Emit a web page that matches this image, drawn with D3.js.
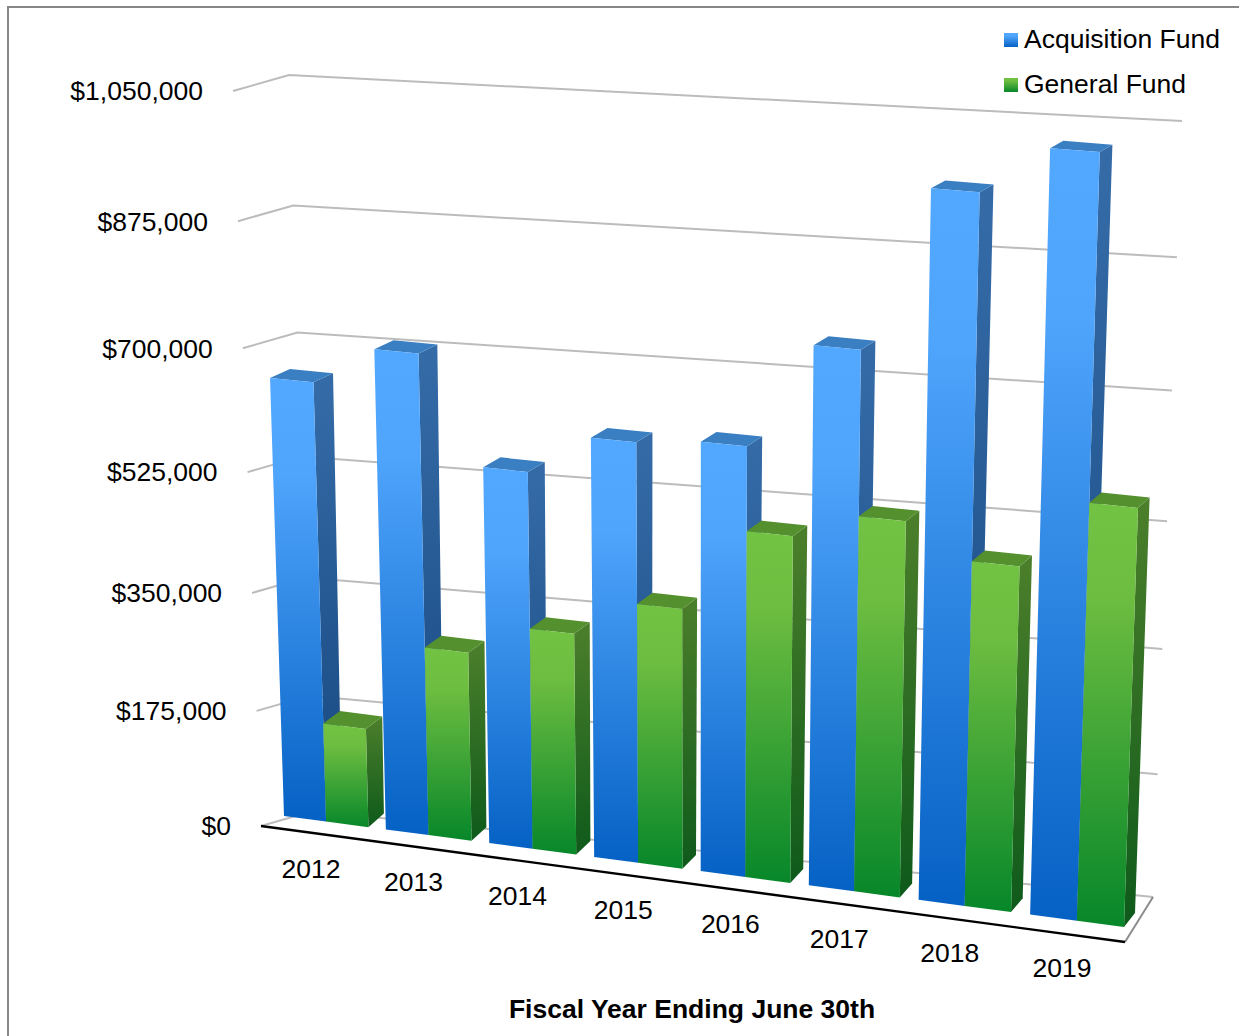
<!DOCTYPE html>
<html>
<head>
<meta charset="utf-8">
<title>Fund balances by fiscal year</title>
<script src="https://cdn.jsdelivr.net/npm/d3@7"></script>
<style>
  html, body { margin: 0; padding: 0; background: #fff; }
  svg { display: block; }
  text { font-family: "Liberation Sans", Arial, sans-serif; fill: #000; }
</style>
</head>
<body>
<svg id="chart" width="1239" height="1036"></svg>
<script>
const years = ["2012", "2013", "2014", "2015", "2016", "2017", "2018", "2019"];
const seriesNames = ["Acquisition Fund", "General Fund"];
const acquisitionFund = [638000, 693000, 543000, 600000, 610000, 756000, 977000, 1041000];
const generalFund = [146000, 276000, 321000, 374000, 493000, 530000, 485000, 581000];
const valueTicks = [0, 175000, 350000, 525000, 700000, 875000, 1050000];
const axisTitle = "Fiscal Year Ending June 30th";

const palette = {
  "Acquisition Fund": {
    front: [["0", "#52a8ff"], ["0.22", "#4fa4fb"], ["1", "#0561c4"]],
    side: [["0", "#356ca8"], ["1", "#17477f"]],
    sideShort: "#3a7fc2"
  },
  "General Fund": {
    front: [["0", "#72c244"], ["0.22", "#6dbd40"], ["1", "#07872a"]],
    side: [["0", "#4c7f2b"], ["1", "#0e5a1b"]],
    sideShort: "#55902f"
  }
};

// Maps the unit square onto a screen quadrilateral (bottom-left, bottom-right,
// top-right, top-left), which gives the perspective of the 3-D chart box.
function quadMap([p0, p1, p2, p3]) {
  const dx1 = p1[0] - p2[0], dx2 = p3[0] - p2[0], sx = p0[0] - p1[0] + p2[0] - p3[0];
  const dy1 = p1[1] - p2[1], dy2 = p3[1] - p2[1], sy = p0[1] - p1[1] + p2[1] - p3[1];
  const den = dx1 * dy2 - dx2 * dy1;
  const g = (sx * dy2 - dx2 * sy) / den, h = (dx1 * sy - sx * dy1) / den;
  const a = p1[0] - p0[0] + g * p1[0], b = p3[0] - p0[0] + h * p3[0], c = p0[0];
  const d = p1[1] - p0[1] + g * p1[1], e = p3[1] - p0[1] + h * p3[1], f = p0[1];
  return (u, v) => {
    const w = g * u + h * v + 1;
    return [(a * u + b * v + c) / w, (d * u + e * v + f) / w];
  };
}

const barPlane = quadMap([[284, 816], [1124, 927], [1150, 149], [260.5, 79]]);
const backWall = quadMap([[313, 811], [1153, 897], [1182, 121], [289, 75]]);
const sideWall = quadMap([[261, 826], [313, 811], [289, 75], [233, 91]]);

const valueScale = d3.scaleLinear().domain([0, 1050000]).range([0, 1]);
const yearScale = d3.scaleBand().domain(years).range([0, 1]).paddingInner(0.17);
const seriesScale = d3.scaleBand().domain(seriesNames).range([0, yearScale.bandwidth()]);

// Depth offset of a bar's back edge varies across the plane.
const depthX = (u, v) => d3.interpolateNumber(
  d3.interpolateNumber(16, 22.5)(v),
  d3.interpolateNumber(11, 12.1)(v))(u);
const depthY = (u, v) => d3.interpolateNumber(
  d3.interpolateNumber(-13.5, -6.2)(v),
  d3.interpolateNumber(-14, -7.4)(v))(u);

const svg = d3.select("#chart");
const defs = svg.append("defs");

function addGradient(id, stops) {
  const grad = defs.append("linearGradient").attr("id", id)
    .attr("x1", 0).attr("y1", 0).attr("x2", 0).attr("y2", 1);
  stops.forEach(([offset, color]) =>
    grad.append("stop").attr("offset", offset).attr("stop-color", color));
}
seriesNames.forEach((name, i) => {
  addGradient(`front${i}`, palette[name].front);
  addGradient(`side${i}`, palette[name].side);
});

// Outer frame
svg.append("path").attr("d", "M8,1036V7H1239")
  .attr("fill", "none").attr("stroke", "#878787").attr("stroke-width", 2);

const line = d3.line();
const wallGroup = svg.append("g").attr("fill", "none").attr("stroke", "#bcbcbc").attr("stroke-width", 2);

// Gridlines on the side wall and back wall
valueTicks.forEach(tick => {
  const v = valueScale(tick);
  wallGroup.append("path").attr("d", line([
    sideWall(0, v), sideWall(1, v), backWall(1, v)
  ]));
});

// Floor outline
wallGroup.append("path").attr("stroke", "#8c8c8c")
  .attr("d", line([backWall(1, 0), sideWall(0, 0).map((c, i) => c + [864, 116][i])]));
svg.append("path").attr("fill", "none").attr("stroke", "#000").attr("stroke-width", 2.4)
  .attr("d", line([sideWall(0, 0), [sideWall(0, 0)[0] + 864, sideWall(0, 0)[1] + 116]]));

// Value labels, right-aligned a fixed distance from the side wall
svg.append("g").selectAll("text").data(valueTicks).join("text")
  .attr("x", d => sideWall(0, valueScale(d))[0] - 30)
  .attr("y", d => sideWall(0, valueScale(d))[1])
  .attr("dy", "0.35em")
  .attr("text-anchor", "end")
  .attr("font-size", 26.5)
  .text(d => "$" + d3.format(",")(d));

// Bars, painted from left to right
const values = { "Acquisition Fund": acquisitionFund, "General Fund": generalFund };
const barsGroup = svg.append("g");

years.forEach((year, yi) => {
  seriesNames.forEach((name, si) => {
    const value = values[name][yi];
    const u0 = yearScale(year) + seriesScale(name);
    const u1 = u0 + seriesScale.bandwidth();
    const v = valueScale(value);
    const bl = barPlane(u0, 0), br = barPlane(u1, 0);
    const tl = barPlane(u0, v), tr = barPlane(u1, v);
    const back = (pt, u, vv) => [pt[0] + depthX(u, vv), pt[1] + depthY(u, vv)];
    const brb = back(br, u1, 0), trb = back(tr, u1, v), tlb = back(tl, u0, v);
    const g = barsGroup.append("g").attr("class", "bar");
    g.append("path").attr("d", line([tr, trb, brb, br]) + "Z").attr("fill", `url(#side${si})`);
    g.append("path").attr("d", line([tl, tlb, trb, tr]) + "Z").attr("fill", palette[name].sideShort);
    g.append("path").attr("d", line([bl, br, tr, tl]) + "Z").attr("fill", `url(#front${si})`);
  });
});

// Category labels under the front edge of the floor
svg.append("g").selectAll("text").data(years).join("text")
  .attr("x", d => barPlane(yearScale(d) + yearScale.bandwidth() / 2, 0)[0] - 15)
  .attr("y", d => barPlane(yearScale(d) + yearScale.bandwidth() / 2, 0)[1] + 47)
  .attr("dy", "0.35em")
  .attr("text-anchor", "middle")
  .attr("font-size", 26.5)
  .text(d => d);

svg.append("text")
  .attr("x", 692).attr("y", 1009).attr("dy", "0.35em")
  .attr("text-anchor", "middle")
  .attr("font-size", 26.5).attr("font-weight", "bold")
  .text(axisTitle);

// Legend
const legend = svg.append("g").selectAll("g").data(seriesNames).join("g")
  .attr("transform", (d, i) => `translate(1004,${33 + i * 45})`);
legend.append("rect").attr("width", 14).attr("height", 14)
  .attr("fill", (d, i) => `url(#front${i})`);
legend.append("text").attr("x", 20).attr("y", 15).attr("font-size", 26.5).text(d => d);
</script>
</body>
</html>
